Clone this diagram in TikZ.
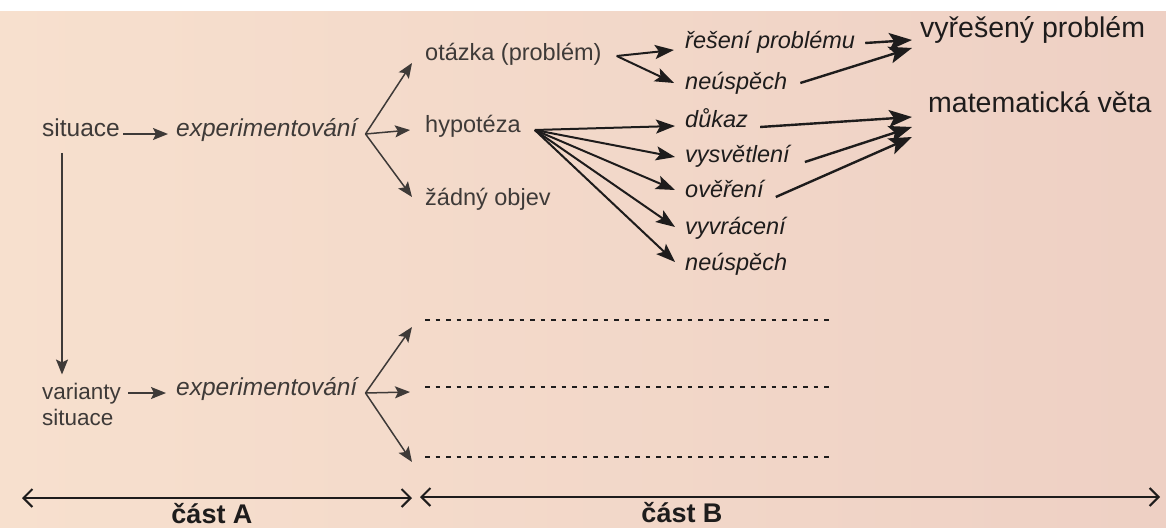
\documentclass[tikz,border=0pt]{standalone}
\usepackage{fontspec}
\setmainfont{Liberation Sans}
\usetikzlibrary{arrows.meta,calc}
\definecolor{bgL}{RGB}{247,224,206}
\definecolor{bgR}{RGB}{238,208,196}
\definecolor{inkL}{RGB}{62,58,56}
\definecolor{inkR}{RGB}{30,28,28}
\tikzset{
  lbl/.style={inner sep=0pt, anchor=west, text height=0.73em, text depth=0.21em, text=inkL},
  fleft/.style={font=\fontsize{24.5}{30}\selectfont},
  fexp/.style={font=\fontsize{24.5}{30}\selectfont\itshape},
  fmid/.style={font=\fontsize{23.5}{28}\selectfont},
  fital/.style={font=\fontsize{23.5}{28}\selectfont\itshape, text=inkR},
  fbig/.style={font=\fontsize{28.5}{34}\selectfont, text=inkR},
  partlbl/.style={inner sep=0pt, anchor=base, text=inkR, font=\fontsize{27}{32}\selectfont\bfseries},
  thin/.style={draw=inkL, line width=1.5pt, -{Stealth[length=15pt,width=12pt,inset=3pt]}},
  fan/.style={draw=inkR, line width=2pt, -{Stealth[length=19pt,width=14pt,inset=4pt]}},
  bigarr/.style={draw=inkR, line width=2.4pt, -{Stealth[length=23pt,width=17pt,inset=5pt]}},
  dotline/.style={draw=inkR, line width=2.3pt, dash pattern=on 4.5pt off 6pt},
  span/.style={draw=inkR, line width=2pt, {Straight Barb[length=9pt,width=18pt]}-{Straight Barb[length=9pt,width=18pt]}}
}
\begin{document}
\begin{tikzpicture}[x=1pt,y=-1pt]
\fill[white] (0,0) rectangle (1166,527);
\shade[left color=bgL,right color=bgR] (0,12) rectangle (1166,527);
\useasboundingbox (0,0) rectangle (1166,527);

% nodes, part A
\node[lbl,fleft] (sit) at (42,134) {situace};
\node[lbl,fexp] (exp1) at (176,134) {experimentování};
\node[lbl,fmid] (otazka) at (425,58) {otázka (problém)};
\node[lbl,fmid] (hyp) at (425,130) {hypotéza};
\node[lbl,fmid] (zadny) at (425,203) {žádný objev};
\node[inner sep=0pt, anchor=base west, align=left, text=inkL, font=\fontsize{22.5}{26}\selectfont] (var) at (42,425) {varianty\\situace};
\node[lbl,fexp] (exp2) at (176,393) {experimentování};

% nodes, part B
\node[lbl,fital] (resprob) at (685,46) {řešení problému};
\node[lbl,fital] (neusp1) at (685,87) {neúspěch};
\node[lbl,fital] (dukaz) at (685,125) {důkaz};
\node[lbl,fital] (vysv) at (685,160) {vysvětlení};
\node[lbl,fital] (over) at (685,195) {ověření};
\node[lbl,fital] (vyvr) at (685,232) {vyvrácení};
\node[lbl,fital] (neusp2) at (685,268) {neúspěch};
\node[lbl,fbig] (vyres) at (920,35) {vyřešený problém};
\node[lbl,fbig] (matv) at (928,110) {matematická věta};

\node[partlbl] (castA) at (212,523) {část A};
\node[partlbl] (castB) at (682,522) {část B};

% dotted placeholders
\coordinate (d1a) at (425,320); \coordinate (d1b) at (830,320);
\coordinate (d2a) at (425,387); \coordinate (d2b) at (830,387);
\coordinate (d3a) at (425,457); \coordinate (d3b) at (830,457);
\draw[dotline] (d1a) -- (d1b);
\draw[dotline] (d2a) -- (d2b);
\draw[dotline] (d3a) -- (d3b);

% left connectors
\draw[thin] ([xshift=3pt]sit.east) -- ([xshift=-8pt]exp1.west);
\draw[thin] (128,393) -- ([xshift=-10pt]exp2.west);
\draw[thin] ([xshift=20pt,yshift=-14pt]sit.south west) -- ([xshift=20pt,yshift=8pt]var.north west);

\coordinate (b1) at ([xshift=8pt]exp1.east);
\draw[thin] (b1) -- ([xshift=-13pt,yshift=-5pt]otazka.west);
\draw[thin] (b1) -- ([xshift=-15pt]hyp.west);
\draw[thin] (b1) -- ([xshift=-13pt,yshift=6pt]zadny.west);

\coordinate (b2) at ([xshift=8pt]exp2.east);
\draw[thin] (b2) -- ([xshift=-13pt,yshift=-7pt]d1a);
\draw[thin] (b2) -- ([xshift=-15pt,yshift=-5pt]d2a);
\draw[thin] (b2) -- ([xshift=-13pt,yshift=-5pt]d3a);

% part B fans
\coordinate (ov) at ([xshift=15pt,yshift=2pt]otazka.east);
\draw[fan] (ov) -- ([xshift=-11pt,yshift=-4pt]resprob.west);
\draw[fan] (ov) -- ([xshift=-11pt,yshift=4pt]neusp1.west);

\coordinate (hv) at ([xshift=14pt]hyp.east);
\draw[fan] (hv) -- ([xshift=-10pt,yshift=-1pt]dukaz.west);
\draw[fan] (hv) -- ([xshift=-10pt,yshift=3pt]vysv.west);
\draw[fan] (hv) -- ([xshift=-10pt,yshift=5pt]over.west);
\draw[fan] (hv) -- ([xshift=-10pt,yshift=5pt]vyvr.west);
\draw[fan] (hv) -- ([xshift=-10pt,yshift=6pt]neusp2.west);

% to results
\draw[bigarr] ([xshift=10pt,yshift=3pt]resprob.east) -- ([xshift=-8pt,yshift=-5pt]vyres.west);
\draw[bigarr] ([xshift=13pt,yshift=4pt]neusp1.east) -- ([xshift=-8pt,yshift=-13pt]vyres.west);
\draw[bigarr] ([xshift=12pt,yshift=-2pt]dukaz.east) -- ([xshift=-16pt,yshift=-7pt]matv.west);
\draw[bigarr] ([xshift=15pt,yshift=-2pt]vysv.east) -- ([xshift=-16pt,yshift=-17pt]matv.west);
\draw[bigarr] ([xshift=12pt,yshift=-2pt]over.east) -- ([xshift=-16pt,yshift=-27pt]matv.west);

% bottom spans
\coordinate (sa1) at (22,498); \coordinate (sa2) at (412,498);
\coordinate (sb1) at (420,497); \coordinate (sb2) at (1160,497);
\draw[span] (sa1) -- (sa2);
\draw[span] (sb1) -- (sb2);
\end{tikzpicture}
\end{document}
